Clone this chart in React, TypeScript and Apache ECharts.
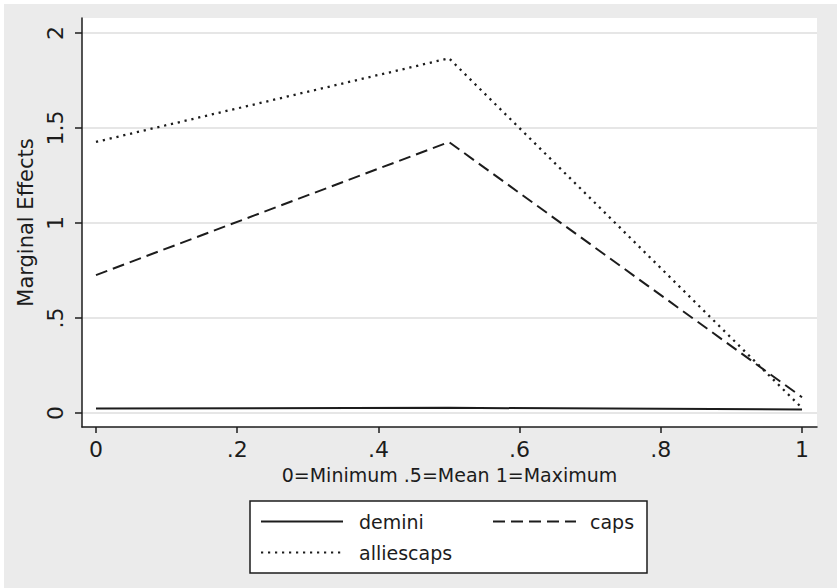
import React, { useEffect, useRef } from "react";
import * as echarts from "echarts";

const xValues = [0, 0.5, 1];
const deminiValues = [0.024, 0.027, 0.019];
const capsValues = [0.726, 1.426, 0.083];
const alliescapsValues = [1.427, 1.867, 0.026];
const xTicks = [0, 0.2, 0.4, 0.6, 0.8, 1];
const yTicks = [0, 0.5, 1, 1.5, 2];
const seriesNames = ["demini", "caps", "alliescaps"];

const FONT = "DejaVu Sans";
const INK = "#1c1c1c";

const fmt = (v: number) => {
  const s = String(v);
  return s.startsWith("0.") ? s.slice(1) : s;
};

export default function App() {
  const ref = useRef<HTMLDivElement>(null);
  useEffect(() => {
    document.body.style.margin = "0";
    const chart = echarts.init(ref.current!, null, { renderer: "svg" });
    const line = (name: string, data: number[], type: any, width: number) => ({
      name,
      type: "line",
      data: xValues.map((x, i) => [x, data[i]]),
      symbol: "none",
      showSymbol: false,
      lineStyle: { color: INK, width, type },
      itemStyle: { color: INK },
      z: 5,
    });
    const legendCommon = {
      orient: "vertical",
      top: 512,
      padding: 0,
      itemHeight: 14,
      itemGap: 12,
      z: 10,
      itemStyle: { opacity: 0 },
    };
    chart.setOption({
      animation: false,
      backgroundColor: "#ebebeb",
      textStyle: { fontFamily: FONT, color: INK },
      graphic: [
        { type: "rect", shape: { x: 0, y: 0, width: 837, height: 4 }, style: { fill: "#fff" }, z: -10 },
        { type: "rect", shape: { x: 0, y: 0, width: 4, height: 588 }, style: { fill: "#fff" }, z: -10 },
        {
          type: "rect",
          shape: { x: 250, y: 501, width: 397, height: 72 },
          style: { fill: "#fff", stroke: INK, lineWidth: 1.5 },
          z: 1,
        },
      ],
      grid: {
        left: 82,
        right: 20,
        top: 18,
        bottom: 161,
        show: true,
        backgroundColor: "#fff",
        borderWidth: 0,
      },
      xAxis: {
        type: "value",
        min: -0.0198,
        max: 1.0212,
        name: "0=Minimum .5=Mean 1=Maximum",
        nameLocation: "middle",
        nameGap: 38,
        nameTextStyle: { fontFamily: FONT, fontSize: 19, color: INK },
        axisLine: { show: true, onZero: false, lineStyle: { color: INK, width: 1.5 } },
        axisTick: { show: true, length: 6, customValues: xTicks, lineStyle: { color: INK, width: 1.5 } },
        axisLabel: {
          customValues: xTicks,
          formatter: fmt,
          fontFamily: FONT,
          fontSize: 22,
          color: INK,
          margin: 11,
        },
        splitLine: { show: false },
      },
      yAxis: {
        type: "value",
        min: -0.0737,
        max: 2.079,
        name: "Marginal Effects",
        nameLocation: "middle",
        nameGap: 43,
        nameTextStyle: { fontFamily: FONT, fontSize: 21, color: INK },
        axisLine: { show: true, onZero: false, lineStyle: { color: INK, width: 1.5 } },
        axisTick: { show: true, length: 7, customValues: yTicks, lineStyle: { color: INK, width: 1.5 } },
        axisLabel: {
          customValues: yTicks,
          formatter: fmt,
          rotate: 90,
          fontFamily: FONT,
          fontSize: 22,
          color: INK,
          margin: 16,
        },
        splitLine: { show: true, lineStyle: { color: "#e6e6e6", width: 2 } },
      },
      legend: [
        {
          ...legendCommon,
          data: [seriesNames[0], seriesNames[2]],
          left: 260,
          itemWidth: 82,
          textStyle: { fontFamily: FONT, fontSize: 19, color: INK, padding: [0, 0, 0, 11] },
        },
        {
          ...legendCommon,
          data: [seriesNames[1]],
          left: 492,
          itemWidth: 83,
          textStyle: { fontFamily: FONT, fontSize: 19, color: INK, padding: [0, 0, 0, 9] },
        },
      ],
      series: [
        line(seriesNames[0], deminiValues, "solid", 2),
        line(seriesNames[1], capsValues, [12, 6], 2),
        line(seriesNames[2], alliescapsValues, [2.2, 4.8], 2.3),
      ],
    });
    return () => chart.dispose();
  }, []);
  return <div ref={ref} style={{ width: 837, height: 588 }} />;
}
